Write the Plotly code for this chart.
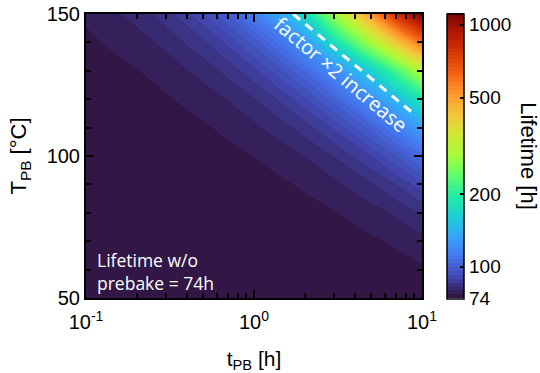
import numpy as np
import plotly.graph_objects as go

# ---- data read / ----
L0 = 74.0                      # lifetime without prebake [h]
L_MAX = 1113.0                 # top of colour scale [h]
t_PB = [0.1, 0.2, 0.3, 0.5, 0.7, 1, 1.5, 2, 3, 5, 7, 10]          # prebake time [h]
T_PB = [50, 60, 70, 80, 90, 100, 110, 120, 130, 140, 150]         # prebake temperature [C]
lifetime = [
    [74.01, 74.02, 74.03, 74.06, 74.08, 74.11, 74.17, 74.22, 74.33, 74.56, 74.78, 75.12],
    [74.02, 74.05, 74.07, 74.11, 74.16, 74.23, 74.34, 74.46, 74.69, 75.15, 75.61, 76.31],
    [74.05, 74.09, 74.14, 74.23, 74.32, 74.45, 74.68, 74.91, 75.36, 76.28, 77.20, 78.60],
    [74.09, 74.17, 74.26, 74.43, 74.60, 74.86, 75.29, 75.72, 76.60, 78.36, 80.15, 82.89],
    [74.16, 74.31, 74.47, 74.79, 75.10, 75.58, 76.38, 77.18, 78.81, 82.12, 85.53, 90.82],
    [74.28, 74.56, 74.84, 75.40, 75.97, 76.82, 78.25, 79.71, 82.67, 88.81, 95.24, 105.47],
    [74.48, 74.96, 75.45, 76.42, 77.41, 78.90, 81.42, 84.01, 89.33, 100.65, 112.88, 133.02],
    [74.81, 75.62, 76.43, 78.09, 79.76, 82.32, 86.71, 91.24, 100.79, 121.83, 145.62, 186.80],
    [75.32, 76.65, 78.00, 80.75, 83.56, 87.89, 95.45, 103.43, 120.69, 164.0, 218.0, 310.0],
    [76.11, 78.26, 80.45, 84.95, 89.61, 96.93, 109.98, 126.0, 175.0, 290.0, 420.0, 600.0],
    [77.31, 80.71, 84.21, 91.52, 99.24, 113.0, 140.0, 172.0, 280.0, 520.0, 800.0, 1112.42],
]
N_LEVELS = 74
cbar_ticks = [74, 100, 200, 500, 1000]
x_ticks = [0.1, 1, 10]
x_ticktext = ["10<sup>-1</sup>", "10<sup>0</sup>", "10<sup>1</sup>"]
x_minor = [m * d for d in (0.1, 1) for m in range(2, 10)]
y_ticks = [50, 100, 150]
# factor x2 contour (dashed guide)
dash_t = [1.71, 8.84]
dash_T = [150, 115.1]

z = np.log10(np.array(lifetime))
zs, ze = np.log10(L0), np.log10(L_MAX)

FONT = "Liberation Sans"
fig = go.Figure()
fig.add_trace(go.Contour(
    x=t_PB, y=T_PB, z=z,
    colorscale="Turbo", zmin=zs, zmax=ze,
    autocontour=False,
    contours=dict(start=zs, end=ze, size=(ze - zs) / N_LEVELS, coloring="fill", showlines=False),
    line=dict(width=0),
    colorbar=dict(
        x=1.0735, xanchor="left", xpad=0, y=0.5, yanchor="middle", ypad=0,
        lenmode="pixels", len=285, thickness=17,
        outlinecolor="black", outlinewidth=1.5,
        tickmode="array", tickvals=np.log10(cbar_ticks).tolist(),
        ticktext=[str(v) for v in cbar_ticks],
        ticks="inside", ticklen=4, tickwidth=1.5, tickcolor="black",
        tickfont=dict(family=FONT, size=19, color="black"),
    ),
    hoverinfo="skip",
))
fig.add_trace(go.Scatter(
    x=dash_t, y=dash_T, mode="lines",
    line=dict(color="white", width=3, dash="9px,7px"),
    showlegend=False, hoverinfo="skip",
))

fig.add_annotation(
    x=np.log10(3.3), y=128.8, xref="x", yref="y",
    text="factor ×2 increase", textangle=40, showarrow=False,
    font=dict(family="Open Sans", size=20, color="white"),
)
fig.add_annotation(
    x=0.026, y=0.005, xref="paper", yref="paper", xanchor="left", yanchor="bottom",
    text="Lifetime w/o<br>prebake = 74h", align="left", showarrow=False,
    font=dict(family="Open Sans", size=17.5, color="white"),
)
fig.add_annotation(
    x=1.318, y=0.5, xref="paper", yref="paper", xanchor="center", yanchor="middle",
    text="Lifetime [h]", textangle=90, showarrow=False,
    font=dict(family=FONT, size=22, color="black"),
)

axis_common = dict(
    showline=True, linecolor="black", linewidth=2, mirror="ticks",
    ticks="inside", tickcolor="black", tickwidth=1.5, ticklen=8,
    showgrid=False, zeroline=False, automargin=False,
    tickfont=dict(family=FONT, size=20, color="black"),
)
fig.update_xaxes(
    type="log", range=[-1, 1], tickmode="array", tickvals=x_ticks, ticktext=x_ticktext,
    minor=dict(tickvals=x_minor, ticks="inside", ticklen=5, tickcolor="black", tickwidth=1.5),
    ticklabelstandoff=5,
    title=dict(text="t<sub>PB</sub> [h]", font=dict(family=FONT, size=21, color="black"), standoff=20),
    **axis_common,
)
fig.update_yaxes(
    range=[50, 150], tickmode="array", tickvals=y_ticks,
    minor=dict(dtick=10, ticks="inside", ticklen=5, tickcolor="black", tickwidth=1.5),
    title=dict(text="T<sub>PB</sub> [°C]", font=dict(family=FONT, size=22, color="black"), standoff=14),
    **axis_common,
)
fig.update_layout(
    width=540, height=373,
    margin=dict(l=86, r=118, t=14, b=75),
    paper_bgcolor="white", plot_bgcolor="white",
    showlegend=False,
)
fig.write_html("out.html")
